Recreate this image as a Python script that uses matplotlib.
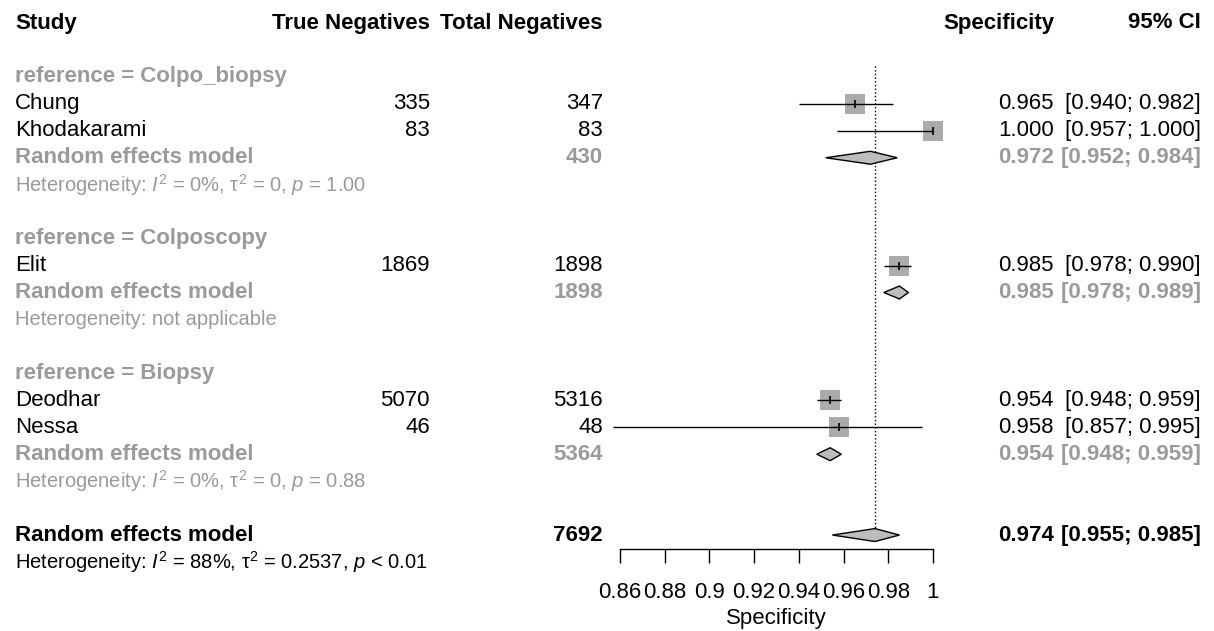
import matplotlib.pyplot as plt
from matplotlib.patches import Polygon
from matplotlib.transforms import blended_transform_factory

plt.rcParams['font.family'] = ['Liberation Sans', 'DejaVu Sans']
plt.rcParams['mathtext.fontset'] = 'custom'
plt.rcParams['mathtext.rm'] = 'Liberation Sans'
plt.rcParams['mathtext.it'] = 'Liberation Sans:italic'

# individual studies
studies = ['Chung', 'Khodakarami', 'Elit', 'Deodhar', 'Nessa']
study_group = [0, 0, 1, 2, 2]
true_neg = [335, 83, 1869, 5070, 46]
total_neg = [347, 83, 1898, 5316, 48]
spec = [0.965, 1.000, 0.985, 0.954, 0.958]
spec_lo = [0.940, 0.957, 0.978, 0.948, 0.857]
spec_hi = [0.982, 1.000, 0.990, 0.959, 0.995]

# subgroups (random effects)
groups = ['Colpo_biopsy', 'Colposcopy', 'Biopsy']
group_total = [430, 1898, 5364]
group_spec = [0.972, 0.985, 0.954]
group_lo = [0.952, 0.978, 0.948]
group_hi = [0.984, 0.989, 0.959]
group_het = [r'Heterogeneity: $I^2$ = 0%, $\mathrm{\tau}^2$ = 0, $p$ = 1.00',
             'Heterogeneity: not applicable',
             r'Heterogeneity: $I^2$ = 0%, $\mathrm{\tau}^2$ = 0, $p$ = 0.88']

# overall
overall_total = 7692
overall_spec = 0.974
overall_lo = 0.955
overall_hi = 0.985
overall_het = r'Heterogeneity: $I^2$ = 88%, $\mathrm{\tau}^2$ = 0.2537, $p$ < 0.01'

ticks = [0.86, 0.88, 0.90, 0.92, 0.94, 0.96, 0.98, 1.00]
tick_labels = ['0.86', '0.88', '0.9', '0.92', '0.94', '0.96', '0.98', '1']

W, H = 1214, 631
row_px, top_px = 26.95, 23
fs, fs_het = 16, 14.5
grey = '#9a9a9a'
half_h = 0.24

fig = plt.figure(figsize=(W / 100, H / 100), dpi=100)
ax = fig.add_axes([620 / W, 0, 313 / W, 1])
ax.set_xlim(0.86, 1.0)
ax.set_ylim((H - top_px) / row_px, -top_px / row_px)
tr = blended_transform_factory(fig.transFigure, ax.transData)

x_study = 15 / W
x_tn = 430 / W
x_tot = 603 / W
x_est = 1054 / W
x_ci = 1201 / W


def ci_text(lo, hi):
    return f'[{lo:.3f}; {hi:.3f}]'


def diamond(est, lo, hi, r):
    ax.add_patch(Polygon([[lo, r], [est, r - half_h], [hi, r], [est, r + half_h]],
                         closed=True, facecolor='#bdbdbd', edgecolor='black',
                         linewidth=1, zorder=3, clip_on=False))


# header
for x, txt, ha in [(x_study, 'Study', 'left'), (x_tn, 'True Negatives', 'right'),
                   (x_tot, 'Total Negatives', 'right'), (x_est, 'Specificity', 'right'),
                   (x_ci, '95% CI', 'right')]:
    ax.text(x, 0, txt, transform=tr, ha=ha, va='center', fontsize=fs, fontweight='bold')

row = 2
study_rows = []
for g, name in enumerate(groups):
    ax.text(x_study, row, f'reference = {name}', transform=tr, ha='left', va='center',
            fontsize=fs, fontweight='bold', color=grey)
    row += 1
    for i in range(len(studies)):
        if study_group[i] != g:
            continue
        study_rows.append(row)
        ax.text(x_study, row, studies[i], transform=tr, ha='left', va='center', fontsize=fs)
        ax.text(x_tn, row, str(true_neg[i]), transform=tr, ha='right', va='center', fontsize=fs)
        ax.text(x_tot, row, str(total_neg[i]), transform=tr, ha='right', va='center', fontsize=fs)
        ax.text(x_est, row, f'{spec[i]:.3f}', transform=tr, ha='right', va='center', fontsize=fs)
        ax.text(x_ci, row, ci_text(spec_lo[i], spec_hi[i]), transform=tr, ha='right',
                va='center', fontsize=fs)
        row += 1
    ax.text(x_study, row, 'Random effects model', transform=tr, ha='left', va='center',
            fontsize=fs, fontweight='bold', color=grey)
    ax.text(x_tot, row, str(group_total[g]), transform=tr, ha='right', va='center',
            fontsize=fs, fontweight='bold', color=grey)
    ax.text(x_est, row, f'{group_spec[g]:.3f}', transform=tr, ha='right', va='center',
            fontsize=fs, fontweight='bold', color=grey)
    ax.text(x_ci, row, ci_text(group_lo[g], group_hi[g]), transform=tr, ha='right',
            va='center', fontsize=fs, fontweight='bold', color=grey)
    diamond(group_spec[g], group_lo[g], group_hi[g], row)
    row += 1
    ax.text(x_study, row, group_het[g], transform=tr, ha='left', va='center',
            fontsize=fs_het, color=grey)
    row += 2

overall_row = row
ax.text(x_study, row, 'Random effects model', transform=tr, ha='left', va='center',
        fontsize=fs, fontweight='bold')
ax.text(x_tot, row, str(overall_total), transform=tr, ha='right', va='center',
        fontsize=fs, fontweight='bold')
ax.text(x_est, row, f'{overall_spec:.3f}', transform=tr, ha='right', va='center',
        fontsize=fs, fontweight='bold')
ax.text(x_ci, row, ci_text(overall_lo, overall_hi), transform=tr, ha='right',
        va='center', fontsize=fs, fontweight='bold')
diamond(overall_spec, overall_lo, overall_hi, row)
ax.text(x_study, row + 1, overall_het, transform=tr, ha='left', va='center', fontsize=fs_het)

# study squares, CIs and point marks
ax.scatter(spec, study_rows, marker='s', s=215, color='#ababab', linewidths=0,
           zorder=2, clip_on=False)
ax.hlines(study_rows, spec_lo, spec_hi, color='black', linewidth=1, zorder=3, clip_on=False)
ax.plot(spec, study_rows, linestyle='none', marker='|', markersize=6, mew=1.2,
        color='black', zorder=4, clip_on=False)

# reference line at the overall estimate
ax.vlines(overall_spec, 1.6, overall_row, color='black', linestyle=':', linewidth=1, zorder=1)

# axis
for s in ['left', 'right', 'top']:
    ax.spines[s].set_visible(False)
ax.spines['bottom'].set_position(('data', overall_row + 0.52))
ax.spines['bottom'].set_bounds(ticks[0], ticks[-1])
ax.spines['bottom'].set_linewidth(1)
ax.set_yticks([])
ax.set_xticks(ticks)
ax.set_xticklabels(tick_labels)
ax.tick_params(axis='x', direction='out', length=10, width=1, labelsize=fs, pad=14)
ax.set_xlabel('Specificity', fontsize=fs, labelpad=3)
ax.patch.set_visible(False)

fig.savefig('out.png', dpi=100)
